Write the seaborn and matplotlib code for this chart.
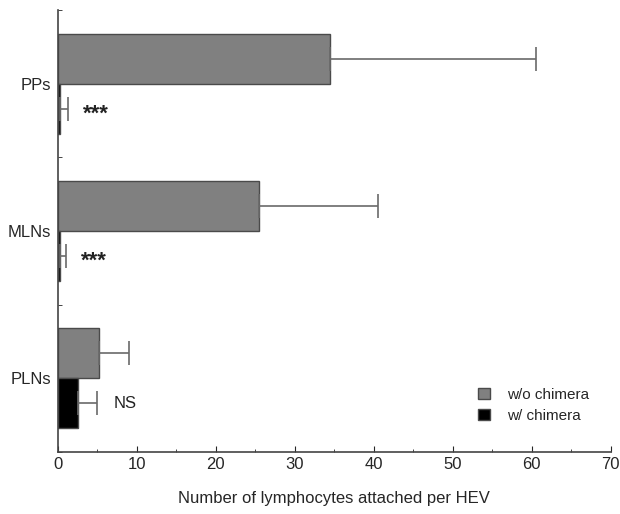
import matplotlib
matplotlib.use("Agg")
import matplotlib.pyplot as plt
import pandas as pd
import seaborn as sns
from matplotlib.ticker import MultipleLocator, FixedLocator

# Data
tissues = ["PPs", "MLNs", "PLNs"]
groups = ["w/o chimera", "w/ chimera"]
mean_wo = [34.5, 25.4, 5.2]
err_wo = [26.0, 15.1, 3.8]
mean_w = [0.3, 0.3, 2.5]
err_w = [1.0, 0.7, 2.5]
labels = ["***", "***", "NS"]

df = pd.DataFrame({
    "tissue": tissues * 2,
    "group": [groups[0]] * 3 + [groups[1]] * 3,
    "value": mean_wo + mean_w,
    "err": err_wo + err_w,
})

sns.set_style("ticks")
plt.rcParams["font.family"] = ["Liberation Sans", "DejaVu Sans"]

fig = plt.figure(figsize=(6.2, 5.14), dpi=100)
ax = fig.add_axes([0.0935, 0.1206, 0.8915, 0.86])

sns.barplot(data=df, y="tissue", x="value", hue="group", order=tissues,
            hue_order=groups, palette=["#808080", "#000000"], orient="h",
            width=0.68, errorbar=None, saturation=1, ax=ax,
            edgecolor="#4a4a4a", linewidth=1.0)

# error bars on the right side only, centred on each bar
patches = [p for p in ax.patches if p.get_height() > 0]
for p, e in zip(patches, df["err"]):
    yc = p.get_y() + p.get_height() / 2
    w = p.get_width()
    ax.errorbar(w, yc, xerr=[[0], [e]], fmt="none", ecolor="#6a6a6a",
                elinewidth=1.2, capsize=8.3, capthick=1.2)

# significance labels next to the w/ chimera bars
w_patches = patches[3:]
for p, e, lab in zip(w_patches, err_w, labels):
    yc = p.get_y() + p.get_height() / 2
    if lab == "NS":
        ax.text(p.get_width() + e + 2.0, yc, lab, va="center", ha="left",
                fontsize=12, color="#222222")
    else:
        ax.text(p.get_width() + e + 1.9, yc + 0.035, lab, va="center",
                ha="left", fontsize=16, fontweight="bold", color="#222222")

ax.set_xlim(0, 70)
ax.set_ylim(2.5, -0.5)
ax.xaxis.set_major_locator(MultipleLocator(10))
ax.xaxis.set_minor_locator(MultipleLocator(5))
ax.yaxis.set_minor_locator(FixedLocator([-0.5, 0.5, 1.5, 2.5]))
ax.tick_params(axis="y", which="major", length=0, labelsize=12, pad=5)
ax.tick_params(axis="y", which="minor", length=3, direction="in")
ax.tick_params(axis="x", which="major", length=4, direction="in", labelsize=12)
ax.tick_params(axis="x", which="minor", length=2.5, direction="in")
for s in ["top", "right"]:
    ax.spines[s].set_visible(False)
for s in ["left", "bottom"]:
    ax.spines[s].set_color("#444444")
    ax.spines[s].set_linewidth(1.2)

ax.set_ylabel("")
ax.set_xlabel("Number of lymphocytes attached per HEV", fontsize=12, labelpad=14)

ax.legend(loc="lower right", bbox_to_anchor=(0.985, 0.035), frameon=False,
          fontsize=11, handlelength=0.75, handleheight=0.75, handletextpad=1.1,
          labelspacing=0.45)

fig.savefig("out.png", dpi=100)
